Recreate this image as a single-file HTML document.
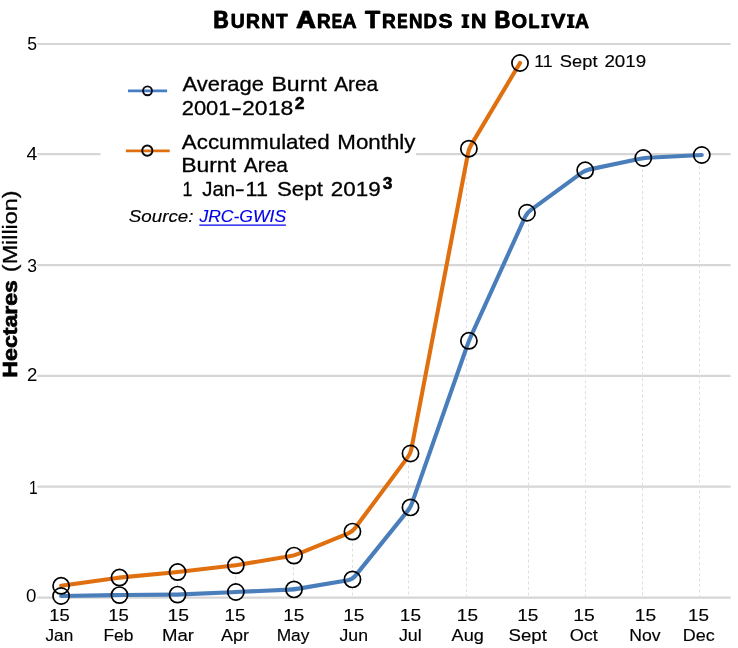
<!DOCTYPE html>
<html>
<head>
<meta charset="utf-8">
<title>Burnt Area Trends in Bolivia</title>
<style>
html,body{margin:0;padding:0;background:#fff;}
body{width:738px;height:648px;overflow:hidden;font-family:"Liberation Sans",sans-serif;}
svg{display:block;position:absolute;left:0;top:0;will-change:transform;}
text{font-family:"Liberation Sans",sans-serif;fill:#000;}
.grid line{stroke:#d6d6d6;stroke-width:2.2;}
.drop line{stroke:#e4dfdf;stroke-width:1;stroke-dasharray:3 2.5;}
.pt circle{fill:none;stroke:#000;stroke-width:1.7;}
</style>
</head>
<body>
<svg width="738" height="648" viewBox="0 0 738 648">
<rect x="0" y="0" width="738" height="648" fill="#ffffff"/>

<!-- gridlines -->
<g class="grid">
<line x1="37.3" y1="44.0" x2="730.6" y2="44.0"/>
<line x1="37.3" y1="154.1" x2="730.6" y2="154.1"/>
<line x1="37.3" y1="265.05" x2="730.6" y2="265.05"/>
<line x1="37.3" y1="375.85" x2="730.6" y2="375.85"/>
<line x1="37.3" y1="486.65" x2="730.6" y2="486.65"/>
<line x1="37.3" y1="597.7" x2="730.6" y2="597.7"/>
</g>

<!-- drop lines -->
<g class="drop">
<line x1="60.5" y1="586" x2="60.5" y2="597"/>
<line x1="119.5" y1="578" x2="119.5" y2="597"/>
<line x1="177.5" y1="572" x2="177.5" y2="597"/>
<line x1="235.5" y1="565" x2="235.5" y2="597"/>
<line x1="293.5" y1="556" x2="293.5" y2="597"/>
<line x1="352.5" y1="532" x2="352.5" y2="597"/>
<line x1="408.5" y1="454" x2="408.5" y2="597"/>
<line x1="466.5" y1="149" x2="466.5" y2="597"/>
<line x1="528.5" y1="213" x2="528.5" y2="597"/>
<line x1="585.5" y1="171" x2="585.5" y2="597"/>
<line x1="642.5" y1="158" x2="642.5" y2="597"/>
<line x1="699.5" y1="155" x2="699.5" y2="597"/>
</g>

<!-- legend background -->
<rect x="100.5" y="60" width="315.6" height="175" fill="#ffffff"/>

<!-- series -->
<g fill="#fff" fill-opacity="0.85"><circle cx="61.1" cy="596.0" r="8.1"/><circle cx="119.5" cy="595.1" r="8.1"/><circle cx="177.55" cy="594.6" r="8.1"/><circle cx="235.85" cy="592.0" r="8.1"/><circle cx="294.0" cy="589.4" r="8.1"/><circle cx="352.45" cy="579.4" r="8.1"/><circle cx="410.5" cy="507.4" r="8.1"/><circle cx="468.9" cy="340.8" r="8.1"/><circle cx="527.0" cy="212.75" r="8.1"/><circle cx="585.2" cy="170.3" r="8.1"/><circle cx="643.3" cy="158.0" r="8.1"/><circle cx="701.75" cy="155.0" r="8.1"/><circle cx="61.1" cy="585.8" r="8.1"/><circle cx="119.5" cy="577.55" r="8.1"/><circle cx="177.55" cy="572.05" r="8.1"/><circle cx="235.85" cy="565.3" r="8.1"/><circle cx="294.0" cy="555.6" r="8.1"/><circle cx="352.45" cy="531.6" r="8.1"/><circle cx="410.5" cy="453.5" r="8.1"/><circle cx="468.9" cy="148.7" r="8.1"/><circle cx="520.0" cy="63.0" r="8.1"/></g>
<path fill="none" stroke="#4a7ebb" stroke-width="4.1" stroke-linejoin="round" stroke-linecap="round" d="M61.10,596.00L115.00,595.17Q119.50,595.10 124.00,595.06L173.05,594.64Q177.55,594.60 182.05,594.40L231.35,592.20Q235.85,592.00 240.35,591.80L289.50,589.60Q294.00,589.40 298.44,588.64L348.01,580.16Q352.45,579.40 355.27,575.90L407.68,510.90Q410.50,507.40 411.99,503.15L467.41,345.05Q468.90,340.80 470.76,336.70L525.14,216.85Q527.00,212.75 530.64,210.10L581.56,172.95Q585.20,170.30 589.60,169.37L638.90,158.93Q643.30,158.00 647.79,157.77L701.75,155.00"/>
<path fill="none" stroke="#e0700f" stroke-width="4.1" stroke-linejoin="round" stroke-linecap="round" d="M61.10,585.80L115.04,578.18Q119.50,577.55 123.98,577.13L173.07,572.47Q177.55,572.05 182.02,571.53L231.38,565.82Q235.85,565.30 240.29,564.56L289.56,556.34Q294.00,555.60 298.16,553.89L348.29,533.31Q352.45,531.60 355.13,527.99L407.82,457.11Q410.50,453.50 411.35,449.08L468.05,153.12Q468.90,148.70 471.20,144.83L520.00,63.00"/>
<g class="pt">
<circle cx="61.1" cy="596.0" r="8.1"/><circle cx="119.5" cy="595.1" r="8.1"/><circle cx="177.55" cy="594.6" r="8.1"/><circle cx="235.85" cy="592.0" r="8.1"/><circle cx="294.0" cy="589.4" r="8.1"/><circle cx="352.45" cy="579.4" r="8.1"/><circle cx="410.5" cy="507.4" r="8.1"/><circle cx="468.9" cy="340.8" r="8.1"/><circle cx="527.0" cy="212.75" r="8.1"/><circle cx="585.2" cy="170.3" r="8.1"/><circle cx="643.3" cy="158.0" r="8.1"/><circle cx="701.75" cy="155.0" r="8.1"/>
<circle cx="61.1" cy="585.8" r="8.1"/><circle cx="119.5" cy="577.55" r="8.1"/><circle cx="177.55" cy="572.05" r="8.1"/><circle cx="235.85" cy="565.3" r="8.1"/><circle cx="294.0" cy="555.6" r="8.1"/><circle cx="352.45" cy="531.6" r="8.1"/><circle cx="410.5" cy="453.5" r="8.1"/><circle cx="468.9" cy="148.7" r="8.1"/><circle cx="520.0" cy="63.0" r="8.1"/>
</g>

<!-- title -->
<g font-weight="bold" stroke="#000" stroke-linejoin="round">
<text transform="translate(212.91,28) scale(0.905,1)" font-size="23.0px" stroke-width="0.4">B</text>
<text transform="translate(214.01,28) scale(0.905,1)" font-size="23.0px" stroke-width="0.4">B</text>
<text transform="translate(230.39,28) scale(0.990,1)" font-size="19.5px" stroke-width="0.3">U</text>
<text transform="translate(230.89,28) scale(0.990,1)" font-size="19.5px" stroke-width="0.3">U</text>
<text transform="translate(245.76,28) scale(0.986,1)" font-size="19.5px" stroke-width="0.3">R</text>
<text transform="translate(246.26,28) scale(0.986,1)" font-size="19.5px" stroke-width="0.3">R</text>
<text transform="translate(261.09,28) scale(0.968,1)" font-size="19.5px" stroke-width="0.3">N</text>
<text transform="translate(261.59,28) scale(0.968,1)" font-size="19.5px" stroke-width="0.3">N</text>
<text transform="translate(275.74,28) scale(0.975,1)" font-size="19.5px" stroke-width="0.3">T</text>
<text transform="translate(276.24,28) scale(0.975,1)" font-size="19.5px" stroke-width="0.3">T</text>
<text transform="translate(295.84,28) scale(1.160,1)" font-size="23.0px" stroke-width="0.4">A</text>
<text transform="translate(296.94,28) scale(1.160,1)" font-size="23.0px" stroke-width="0.4">A</text>
<text transform="translate(316.79,28) scale(0.969,1)" font-size="19.5px" stroke-width="0.3">R</text>
<text transform="translate(317.29,28) scale(0.969,1)" font-size="19.5px" stroke-width="0.3">R</text>
<text transform="translate(331.41,28) scale(0.795,1)" font-size="19.5px" stroke-width="0.3">E</text>
<text transform="translate(331.91,28) scale(0.795,1)" font-size="19.5px" stroke-width="0.3">E</text>
<text transform="translate(341.96,28) scale(1.017,1)" font-size="19.5px" stroke-width="0.3">A</text>
<text transform="translate(342.46,28) scale(1.017,1)" font-size="19.5px" stroke-width="0.3">A</text>
<text transform="translate(364.63,28) scale(1.041,1)" font-size="23.0px" stroke-width="0.4">T</text>
<text transform="translate(365.73,28) scale(1.041,1)" font-size="23.0px" stroke-width="0.4">T</text>
<text transform="translate(381.87,28) scale(0.978,1)" font-size="19.5px" stroke-width="0.3">R</text>
<text transform="translate(382.37,28) scale(0.978,1)" font-size="19.5px" stroke-width="0.3">R</text>
<text transform="translate(397.01,28) scale(0.795,1)" font-size="19.5px" stroke-width="0.3">E</text>
<text transform="translate(397.51,28) scale(0.795,1)" font-size="19.5px" stroke-width="0.3">E</text>
<text transform="translate(408.80,28) scale(0.960,1)" font-size="19.5px" stroke-width="0.3">N</text>
<text transform="translate(409.30,28) scale(0.960,1)" font-size="19.5px" stroke-width="0.3">N</text>
<text transform="translate(423.31,28) scale(0.953,1)" font-size="19.5px" stroke-width="0.3">D</text>
<text transform="translate(423.81,28) scale(0.953,1)" font-size="19.5px" stroke-width="0.3">D</text>
<text transform="translate(438.14,28) scale(1.079,1)" font-size="19.5px" stroke-width="0.3">S</text>
<text transform="translate(438.64,28) scale(1.079,1)" font-size="19.5px" stroke-width="0.3">S</text>
<path stroke="none" d="M461.60,14.20H469.20V16.50H467.40V25.60H469.20V27.90H461.60V25.60H463.40V16.50H461.60Z"/>
<text transform="translate(470.83,28) scale(1.090,1)" font-size="19.5px" stroke-width="0.3">N</text>
<text transform="translate(471.33,28) scale(1.090,1)" font-size="19.5px" stroke-width="0.3">N</text>
<text transform="translate(494.16,28) scale(0.934,1)" font-size="23.0px" stroke-width="0.4">B</text>
<text transform="translate(495.26,28) scale(0.934,1)" font-size="23.0px" stroke-width="0.4">B</text>
<text transform="translate(511.33,28) scale(1.026,1)" font-size="19.5px" stroke-width="0.3">O</text>
<text transform="translate(511.83,28) scale(1.026,1)" font-size="19.5px" stroke-width="0.3">O</text>
<text transform="translate(528.35,28) scale(0.919,1)" font-size="19.5px" stroke-width="0.3">L</text>
<text transform="translate(528.85,28) scale(0.919,1)" font-size="19.5px" stroke-width="0.3">L</text>
<path stroke="none" d="M541.30,14.20H549.30V16.50H547.30V25.60H549.30V27.90H541.30V25.60H543.30V16.50H541.30Z"/>
<text transform="translate(550.40,28) scale(1.130,1)" font-size="19.5px" stroke-width="0.3">V</text>
<text transform="translate(550.90,28) scale(1.130,1)" font-size="19.5px" stroke-width="0.3">V</text>
<path stroke="none" d="M567.00,14.20H574.50V16.50H572.75V25.60H574.50V27.90H567.00V25.60H568.75V16.50H567.00Z"/>
<text transform="translate(574.67,28) scale(0.994,1)" font-size="19.5px" stroke-width="0.3">A</text>
<text transform="translate(575.17,28) scale(0.994,1)" font-size="19.5px" stroke-width="0.3">A</text>
</g>

<!-- legend symbols -->
<line x1="128" y1="90.95" x2="167.1" y2="90.95" stroke="#447fc6" stroke-width="2.7"/>
<circle cx="147.5" cy="90.85" r="4.45" fill="none" stroke="#0a0a14" stroke-width="1.9"/>
<line x1="125.9" y1="150.95" x2="169.7" y2="150.95" stroke="#e0700f" stroke-width="2.7"/>
<circle cx="147.3" cy="150.65" r="5.1" fill="none" stroke="#0a0a0a" stroke-width="1.9"/>
<line x1="199.3" y1="225.1" x2="285.9" y2="225.1" stroke="#0000ee" stroke-width="1.1"/>

<!-- text -->
<g>
<text transform="translate(27.35,50) scale(1.0061,1)" font-size="17.5px">5</text>
<text transform="translate(26.62,160) scale(1.1111,1)" font-size="17.5px">4</text>
<text transform="translate(27.35,272) scale(1.0061,1)" font-size="17.5px">3</text>
<text transform="translate(27.10,381) scale(1.0667,1)" font-size="17.5px">2</text>
<text transform="translate(28.89,494) scale(0.8903,1)" font-size="17.5px">1</text>
<text transform="translate(25.90,602) scale(1.0667,1)" font-size="17.5px">0</text>
<text transform="translate(49.31,621) scale(1.0896,1)" font-size="16.9px" stroke="#000" stroke-width="0.15">15</text>
<text transform="translate(45.52,641) scale(1.0173,1)" font-size="16.9px" stroke="#000" stroke-width="0.15">Jan</text>
<text transform="translate(108.20,621) scale(1.1015,1)" font-size="16.9px" stroke="#000" stroke-width="0.15">15</text>
<text transform="translate(103.49,641) scale(1.0294,1)" font-size="16.9px" stroke="#000" stroke-width="0.15">Feb</text>
<text transform="translate(167.44,621) scale(1.1493,1)" font-size="16.9px" stroke="#000" stroke-width="0.15">15</text>
<text transform="translate(161.90,641) scale(1.1009,1)" font-size="16.9px" stroke="#000" stroke-width="0.15">Mar</text>
<text transform="translate(224.59,621) scale(1.1075,1)" font-size="16.9px" stroke="#000" stroke-width="0.15">15</text>
<text transform="translate(221.07,641) scale(1.0673,1)" font-size="16.9px" stroke="#000" stroke-width="0.15">Apr</text>
<text transform="translate(283.28,621) scale(1.1194,1)" font-size="16.9px" stroke="#000" stroke-width="0.15">15</text>
<text transform="translate(276.69,641) scale(1.0260,1)" font-size="16.9px" stroke="#000" stroke-width="0.15">May</text>
<text transform="translate(343.16,621) scale(1.1313,1)" font-size="16.9px" stroke="#000" stroke-width="0.15">15</text>
<text transform="translate(339.51,641) scale(1.0442,1)" font-size="16.9px" stroke="#000" stroke-width="0.15">Jun</text>
<text transform="translate(399.87,621) scale(1.1254,1)" font-size="16.9px" stroke="#000" stroke-width="0.15">15</text>
<text transform="translate(398.91,641) scale(1.0593,1)" font-size="16.9px" stroke="#000" stroke-width="0.15">Jul</text>
<text transform="translate(456.87,621) scale(1.1254,1)" font-size="16.9px" stroke="#000" stroke-width="0.15">15</text>
<text transform="translate(451.57,641) scale(1.0741,1)" font-size="16.9px" stroke="#000" stroke-width="0.15">Aug</text>
<text transform="translate(517.27,621) scale(1.1254,1)" font-size="16.9px" stroke="#000" stroke-width="0.15">15</text>
<text transform="translate(508.45,641) scale(1.1044,1)" font-size="16.9px" stroke="#000" stroke-width="0.15">Sept</text>
<text transform="translate(573.14,621) scale(1.1493,1)" font-size="16.9px" stroke="#000" stroke-width="0.15">15</text>
<text transform="translate(569.77,641) scale(1.0686,1)" font-size="16.9px" stroke="#000" stroke-width="0.15">Oct</text>
<text transform="translate(634.75,621) scale(1.1373,1)" font-size="16.9px" stroke="#000" stroke-width="0.15">15</text>
<text transform="translate(629.17,641) scale(1.0417,1)" font-size="16.9px" stroke="#000" stroke-width="0.15">Nov</text>
<text transform="translate(687.98,621) scale(1.1194,1)" font-size="16.9px" stroke="#000" stroke-width="0.15">15</text>
<text transform="translate(682.84,641) scale(1.0649,1)" font-size="16.9px" stroke="#000" stroke-width="0.15">Dec</text>
<text transform="translate(182.45,91) scale(1.0468,1)" font-size="21.0px" stroke="#000" stroke-width="0.3">Average</text>
<text transform="translate(271.42,91) scale(1.1005,1)" font-size="21.0px" stroke="#000" stroke-width="0.3">Burnt</text>
<text transform="translate(334.15,91) scale(0.9933,1)" font-size="21.0px" stroke="#000" stroke-width="0.3">Area</text>
<text transform="translate(181.70,115) scale(1.0458,1)" font-size="21.0px" stroke="#000" stroke-width="0.3">2001</text>
<text transform="translate(231.09,115) scale(1.5600,1)" font-size="21.0px" stroke="#000" stroke-width="0.3">-</text>
<text transform="translate(242.06,115) scale(1.0950,1)" font-size="21.0px" stroke="#000" stroke-width="0.3">2018</text>
<text transform="translate(294.70,109) scale(1.0968,1)" font-size="16.0px" font-weight="bold" stroke="#000" stroke-width="0.5">2</text>
<text transform="translate(181.85,149) scale(1.0647,1)" font-size="21.0px" stroke="#000" stroke-width="0.3">Accummulated</text>
<text transform="translate(337.29,149) scale(1.0634,1)" font-size="21.0px" stroke="#000" stroke-width="0.3">Monthly</text>
<text transform="translate(181.13,172) scale(1.0943,1)" font-size="21.0px" stroke="#000" stroke-width="0.3">Burnt</text>
<text transform="translate(243.75,172) scale(0.9955,1)" font-size="21.0px" stroke="#000" stroke-width="0.3">Area</text>
<text transform="translate(182.49,196) scale(0.8432,1)" font-size="21.0px" stroke="#000" stroke-width="0.3">1</text>
<text transform="translate(202.21,196) scale(0.9736,1)" font-size="21.0px" stroke="#000" stroke-width="0.3">Jan</text>
<text transform="translate(234.83,196) scale(1.4200,1)" font-size="21.0px" stroke="#000" stroke-width="0.3">-</text>
<text transform="translate(245.61,196) scale(1.0234,1)" font-size="21.0px" stroke="#000" stroke-width="0.3">11</text>
<text transform="translate(276.99,196) scale(1.0619,1)" font-size="21.0px" stroke="#000" stroke-width="0.3">Sept</text>
<text transform="translate(330.78,196) scale(1.0682,1)" font-size="21.0px" stroke="#000" stroke-width="0.3">2019</text>
<text transform="translate(382.78,189) scale(1.0875,1)" font-size="16.0px" font-weight="bold" stroke="#000" stroke-width="0.5">3</text>
<text transform="translate(128.82,222) scale(1.1096,1)" font-size="16.9px" font-style="italic" stroke="#000" stroke-width="0.15">Source:</text>
<text transform="translate(199.38,222) scale(1.0384,1)" font-size="16.9px" font-style="italic" style="fill:#0000e6" stroke="#0000e6" stroke-width="0.15">JRC-GWIS</text>
<text transform="translate(534.16,67) scale(1.0484,1)" font-size="16.9px" stroke="#000" stroke-width="0.15">11</text>
<text transform="translate(559.86,67) scale(1.0838,1)" font-size="16.9px" stroke="#000" stroke-width="0.15">Sept</text>
<text transform="translate(604.44,67) scale(1.1097,1)" font-size="16.9px" stroke="#000" stroke-width="0.15">2019</text>
</g>

<!-- y axis title -->
<g transform="translate(17.2,376.6) rotate(-90)">
<text transform="translate(-1.05,0.0) scale(1.1224,1)" font-size="20.6px" font-weight="bold" stroke="#000" stroke-width="0.7">Hectares</text>
<text transform="translate(104.46,0.0) scale(1.1113,1)" font-size="21.0px" stroke="#000" stroke-width="0.3">(Million)</text>
</g>
</svg>
</body>
</html>
